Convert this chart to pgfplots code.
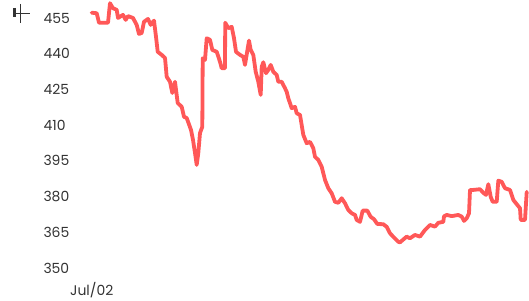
\documentclass[border=0pt]{standalone}
\usepackage{pgfplots}
\pgfplotsset{compat=1.18}
\usepackage{fontspec}
\setmainfont{Poppins}
\definecolor{lineRed}{RGB}{255,88,88}
\definecolor{tickGrey}{RGB}{51,51,51}
\begin{document}
\begin{tikzpicture}[x=1bp,y=1bp]
\path[use as bounding box] (0,0) rectangle (529,300);
% decorative icon at top left
\draw[tickGrey, line width=2.2bp] (14.5,300-8) -- (14.5,300-17);
\draw[tickGrey, line width=1.8bp] (20.5,300-4) -- (20.5,300-23);
\draw[tickGrey, line width=1.6bp] (14,300-13.5) -- (30,300-13.5);
\begin{axis}[
  at={(90bp,27.2bp)}, anchor=south west,
  scale only axis, width=439bp, height=271.5bp,
  xmin=0, xmax=439, ymin=348, ymax=462,
  axis line style={draw=none},
  tick style={draw=none},
  ytick={350,365,380,395,410,425,440,455},
  yticklabel style={anchor=west, xshift=-50bp, font=\fontsize{14}{14}\selectfont, text=tickGrey},
  /pgf/number format/assume math mode=true,
  xtick={1.7}, xticklabels={Jul/02},
  xticklabel style={font=\fontsize{14}{14}\selectfont, text=tickGrey, yshift=-6bp},
  clip=false,
]
\addplot[lineRed, line width=3.8bp, line join=round, line cap=round] coordinates {
(1.7,457.2) (6.7,457.0) (9,453.0) (18,453.0) (20,461.2) (23,459.1) (26.7,458.4) (28,455.0)
(33,456.3) (35.7,454.2) (38,455.8) (43,455.0) (46.7,452.1) (49,448.3) (51.7,448.7) (54,453.4)
(58,454.6) (60.7,452.1) (64,453.9) (66,447.1) (67.7,440.8) (71.7,439.5) (75,438.2) (76.7,430.3)
(80,428.2) (82.3,423.5) (85,428.2) (87.7,419.3) (91.7,417.7) (94,413.5) (96.7,413.0) (101,408.0)
(103,403.8) (105,398.3) (106.7,393.3) (108.3,398.3) (110,406.7) (112.3,409.3) (112.7,438.1)
(115,437.4) (116.7,446.5) (120,445.8) (122.3,441.6) (126.7,440.8) (130,436.6) (131.7,433.9)
(135,433.9) (135.2,453.0) (138.3,450.7) (141.7,451.3) (144,446.5) (146,440.8) (150,439.5)
(153.3,438.7) (155,435.3) (159,445.5) (160.7,441.6) (163.3,439.5) (165.7,432.4) (168.3,428.2)
(170.7,422.7) (171.7,434.5) (173.3,436.4) (176,431.8) (178.3,433.2) (180.7,435.3) (183.3,432.4)
(186.7,431.1) (188.3,428.2) (191.7,428.2) (195,425.5) (196.7,424.0) (198.3,421.3) (201.7,417.1)
(205,417.7) (206.7,415.0) (210,414.3) (213.3,405.9) (216.7,402.4) (220,403.0) (223.3,400.3)
(225,396.7) (228.3,395.4) (231.7,392.5) (235,387.0) (238.3,383.5) (241.7,381.4) (245,377.8)
(248.3,377.4) (251.7,379.3) (255,377.2) (258.3,374.4) (261.7,373.0) (265,372.3) (266.7,370.2)
(270,369.4) (272.7,374.1) (277.3,374.1) (280.7,371.5) (284,370.5) (287.3,368.5) (293.3,368.4)
(296.7,367.3) (300,364.6) (303.3,363.1) (308.3,361.0) (310,360.8) (316.7,363.2) (320,362.5)
(325,363.9) (330,363.2) (335,366.0) (340,368.1) (345,367.4) (348.3,369.0) (353.3,369.4)
(354,371.7) (356.7,372.3) (361.7,371.8) (368.3,372.3) (371.7,371.6) (374,369.8) (376.7,370.9)
(379,373.0) (380,382.8) (383.3,382.8) (390,383.1) (393.3,381.6) (396,380.7) (398.3,385.2)
(400.7,379.9) (402.7,377.8) (406.7,377.8) (408.3,386.7) (411.7,386.2) (415,383.5) (420,382.8)
(423.3,378.6) (427.3,376.5) (430,375.1) (430.7,370.2) (435,370.2) (436.7,382.0)
};
\end{axis}
\end{tikzpicture}
\end{document}
